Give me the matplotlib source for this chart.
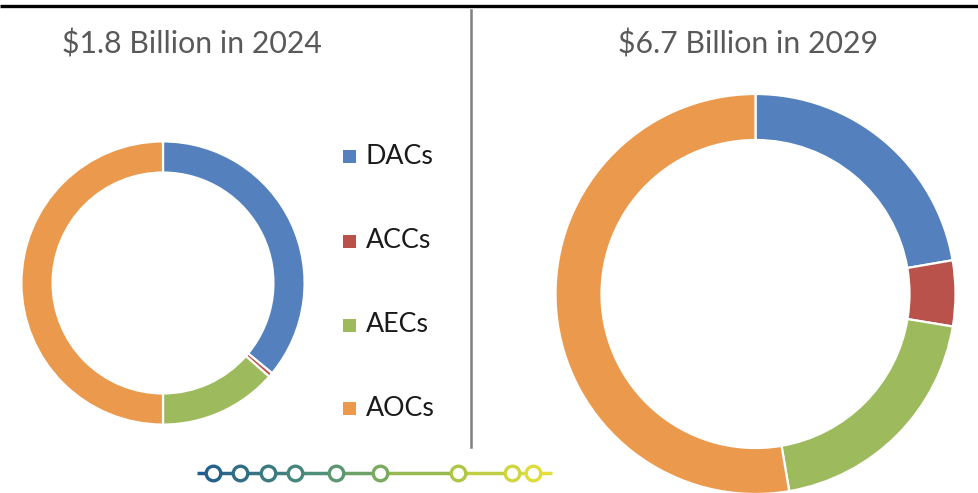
import matplotlib.pyplot as plt
from matplotlib.colors import LinearSegmentedColormap

plt.rcParams['font.family'] = ['Lato', 'DejaVu Sans']

segments = ["DACs", "ACCs", "AECs", "AOCs"]
share_2024 = [36.0, 0.5, 13.5, 50.0]
share_2029 = [22.3, 5.3, 19.7, 52.7]
titles = ["$1.8 Billion in 2024", "$6.7 Billion in 2029"]
colors = ["#5481bd", "#b8524a", "#9dbb5c", "#eb9a4d"]

# decorative chain of rings under the left chart (pixel x positions)
chain_x = [213, 240, 268, 295, 336, 380, 458, 512, 533]

W, H = 979, 493
fig = plt.figure(figsize=(W / 100, H / 100), dpi=100)

# overlay axes in pixel units for lines and text
bg = fig.add_axes([0, 0, 1, 1])
bg.set_xlim(0, W)
bg.set_ylim(H, 0)
bg.axis("off")

bg.plot([0, W], [5.5, 5.5], color="black", lw=2.4, solid_capstyle="butt")
bg.plot([471, 471], [10, 447], color="#7f7f7f", lw=1.8)

bg.text(192, 44, titles[0], fontsize=21.8, color="#595959", ha="center", va="center")
bg.text(748, 44, titles[1], fontsize=21.8, color="#595959", ha="center", va="center")

legend_y = [156, 241, 325, 408]
for name, col, y in zip(segments, colors, legend_y):
    bg.add_patch(plt.Rectangle((343, y - 6), 13, 13, color=col, lw=0))
    bg.text(366, y, name, fontsize=19.3, color="#1a1a1a", ha="left", va="center")

# gradient chain
cmap = LinearSegmentedColormap.from_list("chain", ["#1f5a8c", "#4f8f7a", "#9fbf4a", "#e8e23c"])
x0, x1 = 197, 552
cy = 473
pts = [x0] + chain_x + [x1]
for a, b in zip(pts[:-1], pts[1:]):
    t = ((a + b) / 2 - x0) / (x1 - x0)
    bg.plot([a, b], [cy, cy], color=cmap(t), lw=2.5, solid_capstyle="butt")
for x in chain_x:
    t = (x - x0) / (x1 - x0)
    bg.plot(x, cy, "o", ms=10.5, mfc="white", mec=cmap(t), mew=2.4)


def donut(cx, cy, r, values, width):
    ax = fig.add_axes([(cx - r) / W, (H - cy - r) / H, 2 * r / W, 2 * r / H])
    ax.pie(values, colors=colors, startangle=90, counterclock=False, radius=1,
           wedgeprops=dict(width=width, edgecolor="white", linewidth=1.6))
    ax.set_xlim(-1.01, 1.01)
    ax.set_ylim(-1.01, 1.01)
    ax.set_aspect("equal")
    ax.axis("off")
    return ax


donut(163, 283, 143, share_2024, 0.22)
donut(755.5, 294, 202, share_2029, 0.23)

fig.savefig("out.png", dpi=100)
